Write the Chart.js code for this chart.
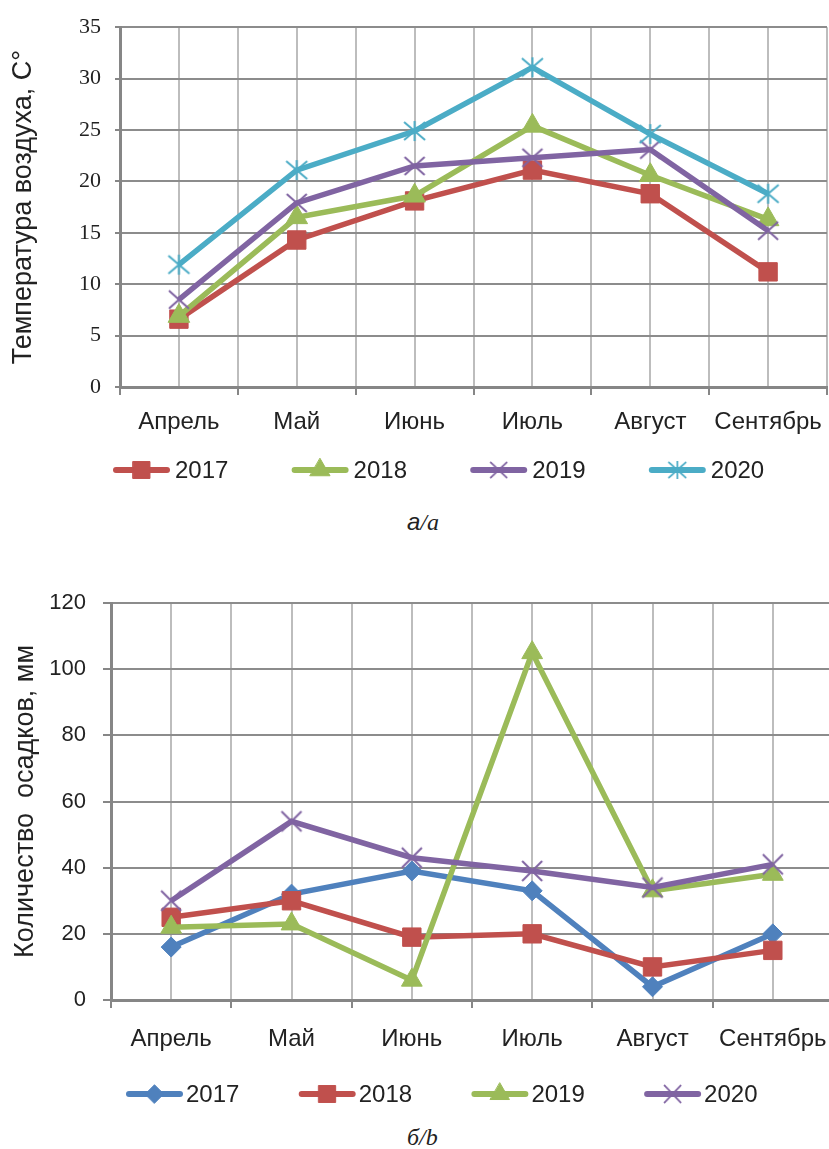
<!DOCTYPE html>
<html>
<head>
<meta charset="utf-8">
<script src="https://cdn.jsdelivr.net/npm/chart.js@4.4.1/dist/chart.umd.min.js"></script>
<style>
  html, body { margin: 0; padding: 0; background: #fff; width: 829px; height: 1149px; overflow: hidden; position: relative; }
  .box { position: absolute; left: 0; }
  .cap { position: absolute; font-size: 24px; font-style: italic; color: #222; line-height: 28px; }
</style>
</head>
<body>
<div class="box" style="top:0;width:829px;height:500px;"><canvas id="c1" width="829" height="500"></canvas></div>
<div class="box" style="top:560px;width:836px;height:560px;"><canvas id="c2" width="836" height="560"></canvas></div>
<div class="cap" style="left:407px;top:508px;"><span style="font-family:'Liberation Sans',Arial,sans-serif;">а</span><span style="font-family:'Liberation Serif','Times New Roman',serif;">/a</span></div>
<div class="cap" style="left:407px;top:1123px;font-family:'Liberation Serif','Times New Roman',serif;">б/b</div>
<script>
// ---------- DATA ----------
const months = ['Апрель', 'Май', 'Июнь', 'Июль', 'Август', 'Сентябрь'];

// (a) air temperature, °C
const tempYears = ['2017', '2018', '2019', '2020'];
const temp2017 = [6.6, 14.3, 18.1, 21.1, 18.8, 11.2];
const temp2018 = [6.9, 16.5, 18.6, 25.4, 20.6, 16.3];
const temp2019 = [8.5, 17.9, 21.5, 22.3, 23.1, 15.2];
const temp2020 = [11.9, 21.1, 24.9, 31.1, 24.6, 18.8];
const tempTicks = [0, 5, 10, 15, 20, 25, 30, 35];

// (b) precipitation, mm
const precYears = ['2017', '2018', '2019', '2020'];
const prec2017 = [16, 32, 39, 33, 4, 20];
const prec2018 = [25, 30, 19, 20, 10, 15];
const prec2019 = [22, 23, 6, 105, 33, 38];
const prec2020 = [30, 54, 43, 39, 34, 41];
const precTicks = [0, 20, 40, 60, 80, 100, 120];

const tempTitle = 'Температура воздуха, С°';
const precTitle = 'Количество  осадков, мм';

// ---------- STYLE ----------
const C_RED = '#C0504D', C_GREEN = '#9BBB59', C_PURPLE = '#8064A2', C_CYAN = '#4BACC6', C_BLUE = '#4F81BD';
const SANS = "'Liberation Sans', Arial, sans-serif";
const SERIF = "'Liberation Serif', 'Times New Roman', serif";

function makeCross(color, w, h, lw, star) {
  const c = document.createElement('canvas');
  c.width = w + 4; c.height = h + 4;
  const g = c.getContext('2d');
  g.strokeStyle = color; g.lineWidth = lw;
  g.beginPath();
  g.moveTo(2, 2); g.lineTo(w + 2, h + 2);
  g.moveTo(w + 2, 2); g.lineTo(2, h + 2);
  if (star) { g.moveTo(c.width / 2, 1); g.lineTo(c.width / 2, h + 3); }
  g.stroke();
  return c;
}

const lineLegend = {
  id: 'lineLegend',
  afterDraw(chart, args, o) {
    const ctx = chart.ctx;
    chart.data.datasets.forEach((ds, i) => {
      const x0 = o.x + i * o.step, y = o.y;
      ctx.save();
      ctx.strokeStyle = ds.borderColor;
      ctx.lineWidth = 6; ctx.lineCap = 'round';
      ctx.beginPath(); ctx.moveTo(x0 + 3, y); ctx.lineTo(x0 + o.len - 3, y); ctx.stroke();
      ctx.fillStyle = ds.pointBackgroundColor;
      ctx.strokeStyle = ds.pointBorderColor;
      ctx.lineWidth = 1;
      const ps = ds.pointStyle;
      const cx = x0 + o.len / 2;
      if (typeof ps === 'string') {
        Chart.helpers.drawPoint(ctx, { pointStyle: ps, rotation: 0, radius: ds.pointRadius * 0.92, borderWidth: 1 }, cx, y);
      } else {
        const w = ps.width * 0.85, h = ps.height * 0.9;
        ctx.drawImage(ps, cx - w / 2, y - h / 2, w, h);
      }
      ctx.fillStyle = '#222';
      ctx.font = '24px ' + SANS;
      ctx.textBaseline = 'middle';
      ctx.textAlign = 'left';
      ctx.fillText(ds.label, x0 + o.textOff, y + 1);
      ctx.restore();
    });
  }
};

function ds(label, data, color, style, radius, order) {
  return {
    label, data,
    borderColor: color, backgroundColor: color,
    pointBackgroundColor: color, pointBorderColor: color,
    borderWidth: 5.5, tension: 0,
    pointStyle: style, pointRadius: radius, pointHoverRadius: radius,
    pointBorderWidth: 1, order
  };
}

function makeChart(id, cfg) {
  return new Chart(document.getElementById(id), {
    type: 'line',
    data: { labels: months, datasets: cfg.datasets },
    plugins: [lineLegend],
    options: {
      responsive: false, animation: false,
      layout: { padding: cfg.padding, autoPadding: false },
      plugins: { legend: { display: false }, tooltip: { enabled: false }, lineLegend: cfg.legend },
      scales: {
        x: {
          type: 'category', position: 'bottom', offset: true,
          grid: { offset: true, color: '#bdbdbd', lineWidth: 2, tickLength: 8, tickColor: '#868686', tickWidth: 2 },
          border: { display: true, color: '#868686', width: 3 },
          ticks: { color: '#222', font: { family: SANS, size: 24 }, padding: cfg.xPad, maxRotation: 0, autoSkip: false },
          afterFit: s => { s.height = cfg.xH; s.paddingLeft = 0; s.paddingRight = 0; }
        },
        x2: {
          type: 'category', position: 'top', offset: true, labels: months,
          grid: { offset: false, color: '#bdbdbd', lineWidth: 2, drawTicks: false },
          border: { display: false },
          ticks: { display: false },
          afterFit: s => { s.height = 0; s.paddingLeft = 0; s.paddingRight = 0; }
        },
        y: {
          min: cfg.yMin, max: cfg.yMax,
          afterBuildTicks: s => { s.ticks = cfg.yTicks.map(v => ({ value: v })); },
          grid: { color: '#8c8c8c', lineWidth: 2, tickLength: cfg.yTickLen, tickColor: '#868686' },
          border: { display: true, color: '#868686', width: 3 },
          ticks: { color: '#222', font: cfg.yFont, padding: cfg.yPad },
          title: { display: true, text: cfg.title, color: '#222', font: { family: SANS, size: 27 }, padding: { top: cfg.titlePad, bottom: 0 } },
          afterFit: s => { s.width = cfg.yW; }
        }
      }
    }
  });
}

// (a)
makeChart('c1', {
  datasets: [
    ds(tempYears[0], temp2017, C_RED, 'rect', 13, 3),
    ds(tempYears[1], temp2018, C_GREEN, 'triangle', 12.5, 2),
    ds(tempYears[2], temp2019, C_PURPLE, makeCross(C_PURPLE, 20, 18, 2, false), 10, 1),
    ds(tempYears[3], temp2020, C_CYAN, makeCross(C_CYAN, 21, 18, 2, true), 10, 0)
  ],
  padding: { top: 22, right: 2, bottom: 63, left: 0 },
  xH: 50, xPad: 13,
  yMin: 0, yMax: 35, yTicks: tempTicks,
  yTickLen: 5, yPad: 14, yW: 120,
  yFont: { family: SERIF, size: 22 },
  title: tempTitle, titlePad: 7,
  legend: { x: 113, step: 178.6, len: 57, textOff: 62, y: 470 }
});

// (b)
makeChart('c2', {
  datasets: [
    ds(precYears[0], prec2017, C_BLUE, 'rectRot', 10, 3),
    ds(precYears[1], prec2018, C_RED, 'rect', 13, 2),
    ds(precYears[2], prec2019, C_GREEN, 'triangle', 12, 1),
    ds(precYears[3], prec2020, C_PURPLE, makeCross(C_PURPLE, 20, 20, 2, false), 10, 0)
  ],
  padding: { top: 43, right: 3, bottom: 60, left: 0 },
  xH: 60, xPad: 17,
  yMin: 0, yMax: 120, yTicks: precTicks,
  yTickLen: 8, yPad: 17, yW: 111,
  yFont: { family: SANS, size: 22 },
  title: precTitle, titlePad: 9,
  legend: { x: 126, step: 172.7, len: 57, textOff: 60, y: 534 }
});
</script>
</body>
</html>
